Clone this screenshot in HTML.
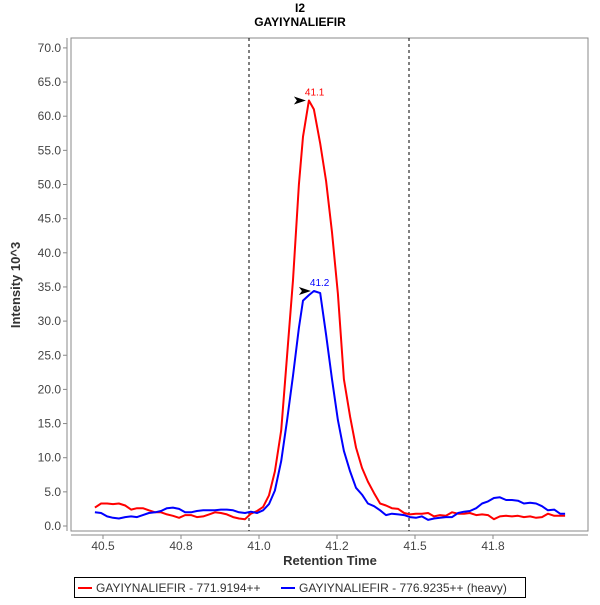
<!DOCTYPE html>
<html><head><meta charset="utf-8"><style>
body{margin:0;background:#fff;width:600px;height:600px;overflow:hidden}
svg{font-family:"Liberation Sans","DejaVu Sans",sans-serif}
</style></head><body>
<svg id="c" width="600" height="600" xmlns="http://www.w3.org/2000/svg">
<text x="300" y="12" text-anchor="middle" font-size="12" font-weight="bold">I2</text>
<text x="300" y="26" text-anchor="middle" font-size="12" font-weight="bold">GAYIYNALIEFIR</text>
<rect x="71" y="38" width="517" height="493" fill="#fff" stroke="#888"/>
<line x1="67" y1="38" x2="67" y2="531" stroke="#888"/>
<line x1="71" y1="535" x2="588" y2="535" stroke="#888"/>
<g id="yt"></g><g id="xt"></g>
<line x1="249" y1="38" x2="249" y2="531" stroke="#000" stroke-dasharray="3,3"/>
<line x1="409" y1="38" x2="409" y2="531" stroke="#000" stroke-dasharray="3,3"/>
<g id="series"></g>
<text x="20" y="285" transform="rotate(-90 20 285)" text-anchor="middle" font-size="13" font-weight="bold" fill="#333">Intensity 10^3</text>
<text x="330" y="565" text-anchor="middle" font-size="13" font-weight="bold" fill="#333">Retention Time</text>
<g>
<rect x="74.5" y="577.5" width="451" height="20" fill="#fff" stroke="#000"/>
<line x1="78" y1="588" x2="92" y2="588" stroke="#f00" stroke-width="2"/>
<text x="96" y="592" font-size="12" fill="#333">GAYIYNALIEFIR - 771.9194++</text>
<line x1="281" y1="588" x2="295" y2="588" stroke="#00f" stroke-width="2"/>
<text x="299" y="592" font-size="12" fill="#333">GAYIYNALIEFIR - 776.9235++ (heavy)</text>
</g>
</svg>
<script>
const times=[40.474,40.494,40.513,40.532,40.551,40.571,40.590,40.609,40.628,40.647,40.667,40.686,40.705,40.724,40.744,40.763,40.782,40.801,40.821,40.840,40.859,40.878,40.897,40.917,40.936,40.955,40.974,40.994,41.013,41.032,41.051,41.071,41.090,41.109,41.128,41.141,41.160,41.176,41.196,41.215,41.234,41.253,41.272,41.292,41.311,41.330,41.349,41.369,41.388,41.407,41.426,41.446,41.465,41.484,41.503,41.522,41.542,41.561,41.580,41.599,41.619,41.638,41.657,41.676,41.696,41.715,41.734,41.753,41.772,41.792,41.811,41.830,41.849,41.869,41.888,41.907,41.926,41.946,41.965,41.981];
const lightValues=[2.7,3.3,3.3,3.2,3.3,3.0,2.4,2.6,2.6,2.3,2.0,2.0,1.7,1.5,1.2,1.6,1.6,1.3,1.4,1.7,2.0,1.9,1.7,1.3,1.1,1.0,1.8,2.2,2.8,4.5,8,14,25,36,50,57,62.3,61,56,50.5,43,34,21.5,16,11.5,8.5,6.5,4.8,3.3,3.0,2.6,2.5,1.9,1.7,1.8,1.8,1.9,1.4,1.6,1.5,2.0,1.8,1.8,1.9,1.6,1.7,1.6,1.0,1.4,1.5,1.4,1.5,1.3,1.4,1.2,1.3,1.8,1.5,1.5,1.5];
const heavyValues=[2.0,1.9,1.4,1.2,1.1,1.3,1.4,1.3,1.6,1.9,2.0,2.2,2.6,2.7,2.5,2.0,2.0,2.2,2.3,2.3,2.3,2.4,2.4,2.3,2.0,1.9,2.1,1.9,2.3,3.2,5.2,9.5,15.5,22,29,33,33.8,34.4,34.1,28,21.5,15.5,11,8,5.6,4.6,3.3,2.9,2.3,1.6,1.8,1.7,1.6,1.3,1.2,1.4,0.9,1.1,1.2,1.3,1.3,1.9,2.1,2.2,2.6,3.3,3.6,4.1,4.2,3.8,3.8,3.7,3.3,3.4,3.3,2.9,2.3,2.4,1.8,1.8];
const yTicks=[0,5,10,15,20,25,30,35,40,45,50,55,60,65,70];
const xTicks=[40.5,40.75,41.0,41.25,41.5,41.75];
const xTickLabels=["40.5","40.8","41.0","41.2","41.5","41.8"];
const peakLabels=["41.1","41.2"];
const NS="http://www.w3.org/2000/svg";
const xS=t=>259+(t-41)*312;
const yS=v=>526-v*6.83;
function mk(tag,attrs,parent){const e=document.createElementNS(NS,tag);for(const k in attrs)e.setAttribute(k,attrs[k]);parent.appendChild(e);return e;}
const yt=document.getElementById('yt');
yTicks.forEach(v=>{
 const l=mk('line',{x1:63,x2:67,y1:yS(v),y2:yS(v),stroke:'#888'},yt);
 
 
 const t=mk('text',{x:61,y:yS(v)+4,'text-anchor':'end','font-size':12,fill:'#444'},yt);
 t.textContent=v.toFixed(1);
 
 
});
const xt=document.getElementById('xt');
xTicks.forEach((v,i)=>{
 const l=mk('line',{x1:xS(v),x2:xS(v),y1:535,y2:539,stroke:'#888'},xt);
 
 
 const t=mk('text',{x:xS(v),y:550,'text-anchor':'middle','font-size':12,fill:'#444'},xt);
 t.textContent=xTickLabels[i];
 
 
});
const sg=document.getElementById('series');
[[lightValues,'#f00','light-series-line',peakLabels[0]],[heavyValues,'#00f','heavy-series-line',peakLabels[1]]].forEach(([vals,col,name,lab])=>{
 const d=vals.map((v,i)=>(i?'L':'M')+xS(times[i]).toFixed(1)+','+yS(v).toFixed(1)).join(' ');
 const p=mk('path',{d:d,fill:'none',stroke:col,'stroke-width':2,'stroke-linejoin':'round'},sg);
 
 
 let mi=0;vals.forEach((v,i)=>{if(v>vals[mi])mi=i;});
 const px=xS(times[mi]),py=yS(vals[mi]);
 const a=mk('polygon',{points:`${px-3},${py} ${px-15},${py-4} ${px-12},${py} ${px-15},${py+4}`,fill:'#000'},sg);
 
 
 const t=mk('text',{x:px-4,y:py-5,'font-size':10,fill:col},sg);
 t.textContent=lab;
 
 
});
</script>
</body></html>
